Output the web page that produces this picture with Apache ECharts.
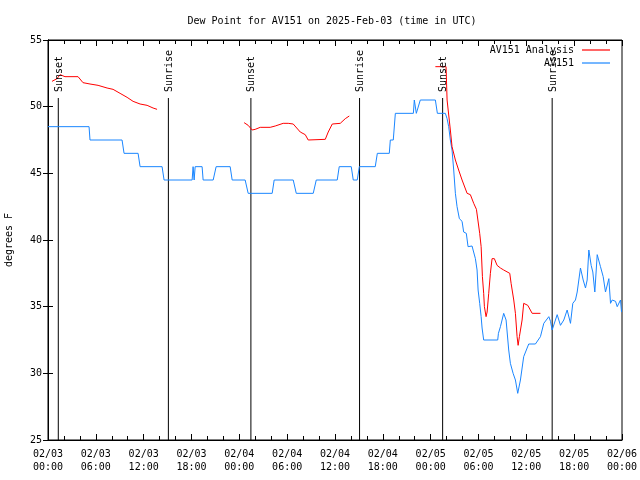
<!DOCTYPE html>
<html><head><meta charset="utf-8">
<script src="https://cdn.jsdelivr.net/npm/echarts/dist/echarts.min.js"></script>
<style>html,body{margin:0;padding:0;background:#fff}#c{width:640px;height:480px}</style>
</head><body><div id="c"></div>
<script>
const FONT = '"DejaVu Sans Mono", "Liberation Mono", monospace';
const titleText = 'Dew Point for AV151 on 2025-Feb-03 (time in UTC)';
const xTickLabels = ['02/03\n00:00','02/03\n06:00','02/03\n12:00','02/03\n18:00','02/04\n00:00','02/04\n06:00','02/04\n12:00','02/04\n18:00','02/05\n00:00','02/05\n06:00','02/05\n12:00','02/05\n18:00','02/06\n00:00'];
const eventNames = ['Sunset','Sunrise','Sunset','Sunrise','Sunset','Sunrise'];
const eventHours = [1.29, 15.1, 25.45, 39.08, 49.5, 63.24];
const eventTop = 50.65;

// hours since 02/03 00:00 UTC
const blueT = [0,5.15,5.27,9.29,9.54,11.3,11.55,14.31,14.56,18.08,18.2,18.33,18.46,19.33,19.46,20.72,21.09,22.85,23.1,24.73,25.11,28.12,28.37,30.76,31.14,33.27,33.65,36.28,36.53,38.04,38.29,38.79,39.05,41.05,41.31,42.81,42.94,43.31,43.57,45.83,45.95,46.2,46.45,46.7,48.59,48.84,49.84,50.06,50.26,50.47,50.68,50.89,51.1,51.31,51.6,51.73,51.94,52.14,52.47,52.69,53.19,53.4,53.61,53.82,53.95,54.15,54.33,54.45,54.65,56.41,56.5,56.75,57.16,57.46,57.79,58.0,58.34,58.63,58.92,59.26,59.67,60.3,61.14,61.77,62.19,62.82,63.03,63.24,63.87,64.28,64.7,65.12,65.54,65.83,66.16,66.38,66.79,67.13,67.42,67.63,67.84,68.13,68.34,68.59,68.89,69.3,69.64,69.93,70.35,70.56,70.77,71.19,71.4,71.81,71.94];
const blueV = [48.5,48.5,47.5,47.5,46.5,46.5,45.5,45.5,44.5,44.5,45.5,44.5,45.5,45.5,44.5,44.5,45.5,45.5,44.5,44.5,43.5,43.5,44.5,44.5,43.5,43.5,44.5,44.5,45.5,45.5,44.5,44.5,45.5,45.5,46.5,46.5,47.5,47.5,49.5,49.5,50.5,49.5,49.5,50.5,50.5,49.5,49.5,49.1,48.5,47.5,46.75,45.25,43.5,42.5,41.6,41.5,41.4,40.6,40.5,39.5,39.55,39.5,38.6,37.75,36.25,35.25,34.25,33.4,32.5,32.5,33.0,33.5,34.5,34.0,31.75,30.75,30.0,29.5,28.5,29.5,31.25,32.2,32.2,32.75,33.75,34.25,33.9,33.25,34.4,33.6,34.0,34.75,33.75,35.25,35.5,36.1,37.9,37.0,36.4,37.0,39.25,38.1,37.6,36.1,38.9,38.0,37.25,36.1,37.1,35.25,35.5,35.4,35.0,35.5,34.6];

const redT = [0.5,1.13,1.51,2.13,3.77,4.39,5.27,6.28,7.41,8.16,9.04,9.92,10.67,11.55,12.43,13.18,13.68,
  19,
  24.6,25.11,25.61,25.99,26.62,27.87,28.5,29.5,30.13,30.76,31.64,32.27,32.64,34.78,35.15,35.66,36.66,37.29,37.79,
  43,
  48.59,49.93,50.06,50.26,50.47,50.68,51.1,51.51,51.94,52.14,52.57,52.98,53.4,53.74,53.95,54.15,54.33,54.49,54.65,54.74,54.95,55.08,55.28,55.49,55.7,55.99,56.33,56.75,57.16,57.92,58.09,58.42,58.63,58.84,58.97,59.13,59.47,59.67,59.89,60.18,60.73,61.77];
const redV = [51.9,52.1,52.4,52.25,52.25,51.8,51.7,51.6,51.4,51.3,51.0,50.7,50.4,50.2,50.1,49.9,49.8,
  null,
  48.8,48.6,48.25,48.3,48.45,48.45,48.55,48.75,48.75,48.7,48.1,47.9,47.5,47.55,48.1,48.7,48.75,49.1,49.3,
  null,
  53.0,53.0,50.5,50.4,48.25,47.0,46.0,45.25,44.5,44.5,43.5,43.4,42.75,42.3,42.25,40.5,39.5,37.25,36.0,35.0,34.25,34.6,36.0,37.5,38.6,38.6,38.1,37.9,37.75,37.5,36.75,35.5,34.5,32.75,32.1,32.75,34.0,35.25,35.3,35.1,34.5,34.5];

const chart = echarts.init(document.getElementById('c'), null, {renderer: 'canvas'});
const X0 = 0, X1 = 72, Y0 = 25, Y1 = 55;

const eventSeries = eventHours.map((h, i) => ({
  type: 'line', name: 'ev' + i, silent: true, symbol: 'none', animation: false,
  data: [[h, Y0], [h, eventTop]],
  lineStyle: {color: '#000', width: 1}, z: 1
}));

const axisCommon = {
  axisLine: {show: true, lineStyle: {color: '#000', width: 1}},
  splitLine: {show: false}
};

chart.setOption({
  animation: false,
  backgroundColor: '#fff',
  title: {text: titleText, left: 327, textAlign: 'center', top: 11,
    textStyle: {fontFamily: FONT, fontSize: 10, fontWeight: 'normal', color: '#000'}},
  grid: {left: 48, right: 18, top: 40, bottom: 40, containLabel: false, outerBoundsMode: 'none',
    show: true, borderColor: '#000', borderWidth: 1},
  legend: [
    {data: ['AV151 Analysis'], right: 25, top: 40, orient: 'vertical', align: 'right', icon: 'rect',
     itemWidth: 28, itemHeight: 1.2, itemGap: 2,
     textStyle: {fontFamily: FONT, fontSize: 10, color: '#000', padding: [0, 3, 0, 0]}},
    {data: ['AV151'], right: 25, top: 53, orient: 'vertical', align: 'right', icon: 'rect',
     itemWidth: 28, itemHeight: 1.2, itemGap: 2,
     textStyle: {fontFamily: FONT, fontSize: 10, color: '#000', padding: [0, 3, 0, 0]}}
  ],
  xAxis: [
    Object.assign({type: 'value', min: X0, max: X1, interval: 6, position: 'bottom',
      axisTick: {show: true, inside: true, length: 6, lineStyle: {color: '#000'}},
      minorTick: {show: true, splitNumber: 3, length: 4, lineStyle: {color: '#000'}},
      axisLabel: {fontFamily: FONT, fontSize: 10, color: '#000', margin: 8, lineHeight: 13,
        formatter: v => xTickLabels[Math.round(v / 6)]}}, axisCommon),
    Object.assign({type: 'value', min: X0, max: X1, interval: 6, position: 'top',
      axisTick: {show: true, inside: true, length: 6, lineStyle: {color: '#000'}},
      minorTick: {show: true, splitNumber: 3, length: 4, lineStyle: {color: '#000'}},
      axisLabel: {show: false}}, axisCommon)
  ],
  yAxis: [
    Object.assign({type: 'value', min: Y0, max: Y1, interval: 5, position: 'left',
      name: 'degrees F', nameLocation: 'middle', nameGap: 34, nameRotate: 90,
      nameTextStyle: {fontFamily: FONT, fontSize: 10, color: '#000'},
      axisTick: {show: true, inside: true, length: 5, lineStyle: {color: '#000'}},
      axisLabel: {fontFamily: FONT, fontSize: 10, color: '#000', margin: 6}}, axisCommon),
    Object.assign({type: 'value', min: Y0, max: Y1, interval: 5, position: 'right',
      axisTick: {show: true, inside: true, length: 5, lineStyle: {color: '#000'}},
      axisLabel: {show: false}}, axisCommon)
  ],
  series: eventSeries.concat([
    {type: 'line', name: 'AV151', symbol: 'none', z: 3, color: '#1a86ff',
     lineStyle: {color: '#1a86ff', width: 1},
     data: blueT.map((t, i) => [t, blueV[i]])},
    {type: 'line', name: 'AV151 Analysis', symbol: 'none', z: 4, color: '#ff0000', connectNulls: false,
     lineStyle: {color: '#ff0000', width: 1},
     data: redT.map((t, i) => [t, redV[i] === null ? '-' : redV[i]])}
  ])
});

// Sunrise / Sunset labels, placed through the chart's own scales
const labelBase = 51.1;
const texts = eventHours.map((h, i) => {
  const p = chart.convertToPixel({xAxisIndex: 0, yAxisIndex: 0}, [h, labelBase]);
  return {type: 'text', x: p[0] + 1, y: p[1], rotation: Math.PI / 2, z: 10,
    style: {text: eventNames[i], font: '10px ' + FONT, fill: '#000', align: 'left', verticalAlign: 'middle'}};
});
chart.setOption({graphic: texts});
</script>
</body></html>
